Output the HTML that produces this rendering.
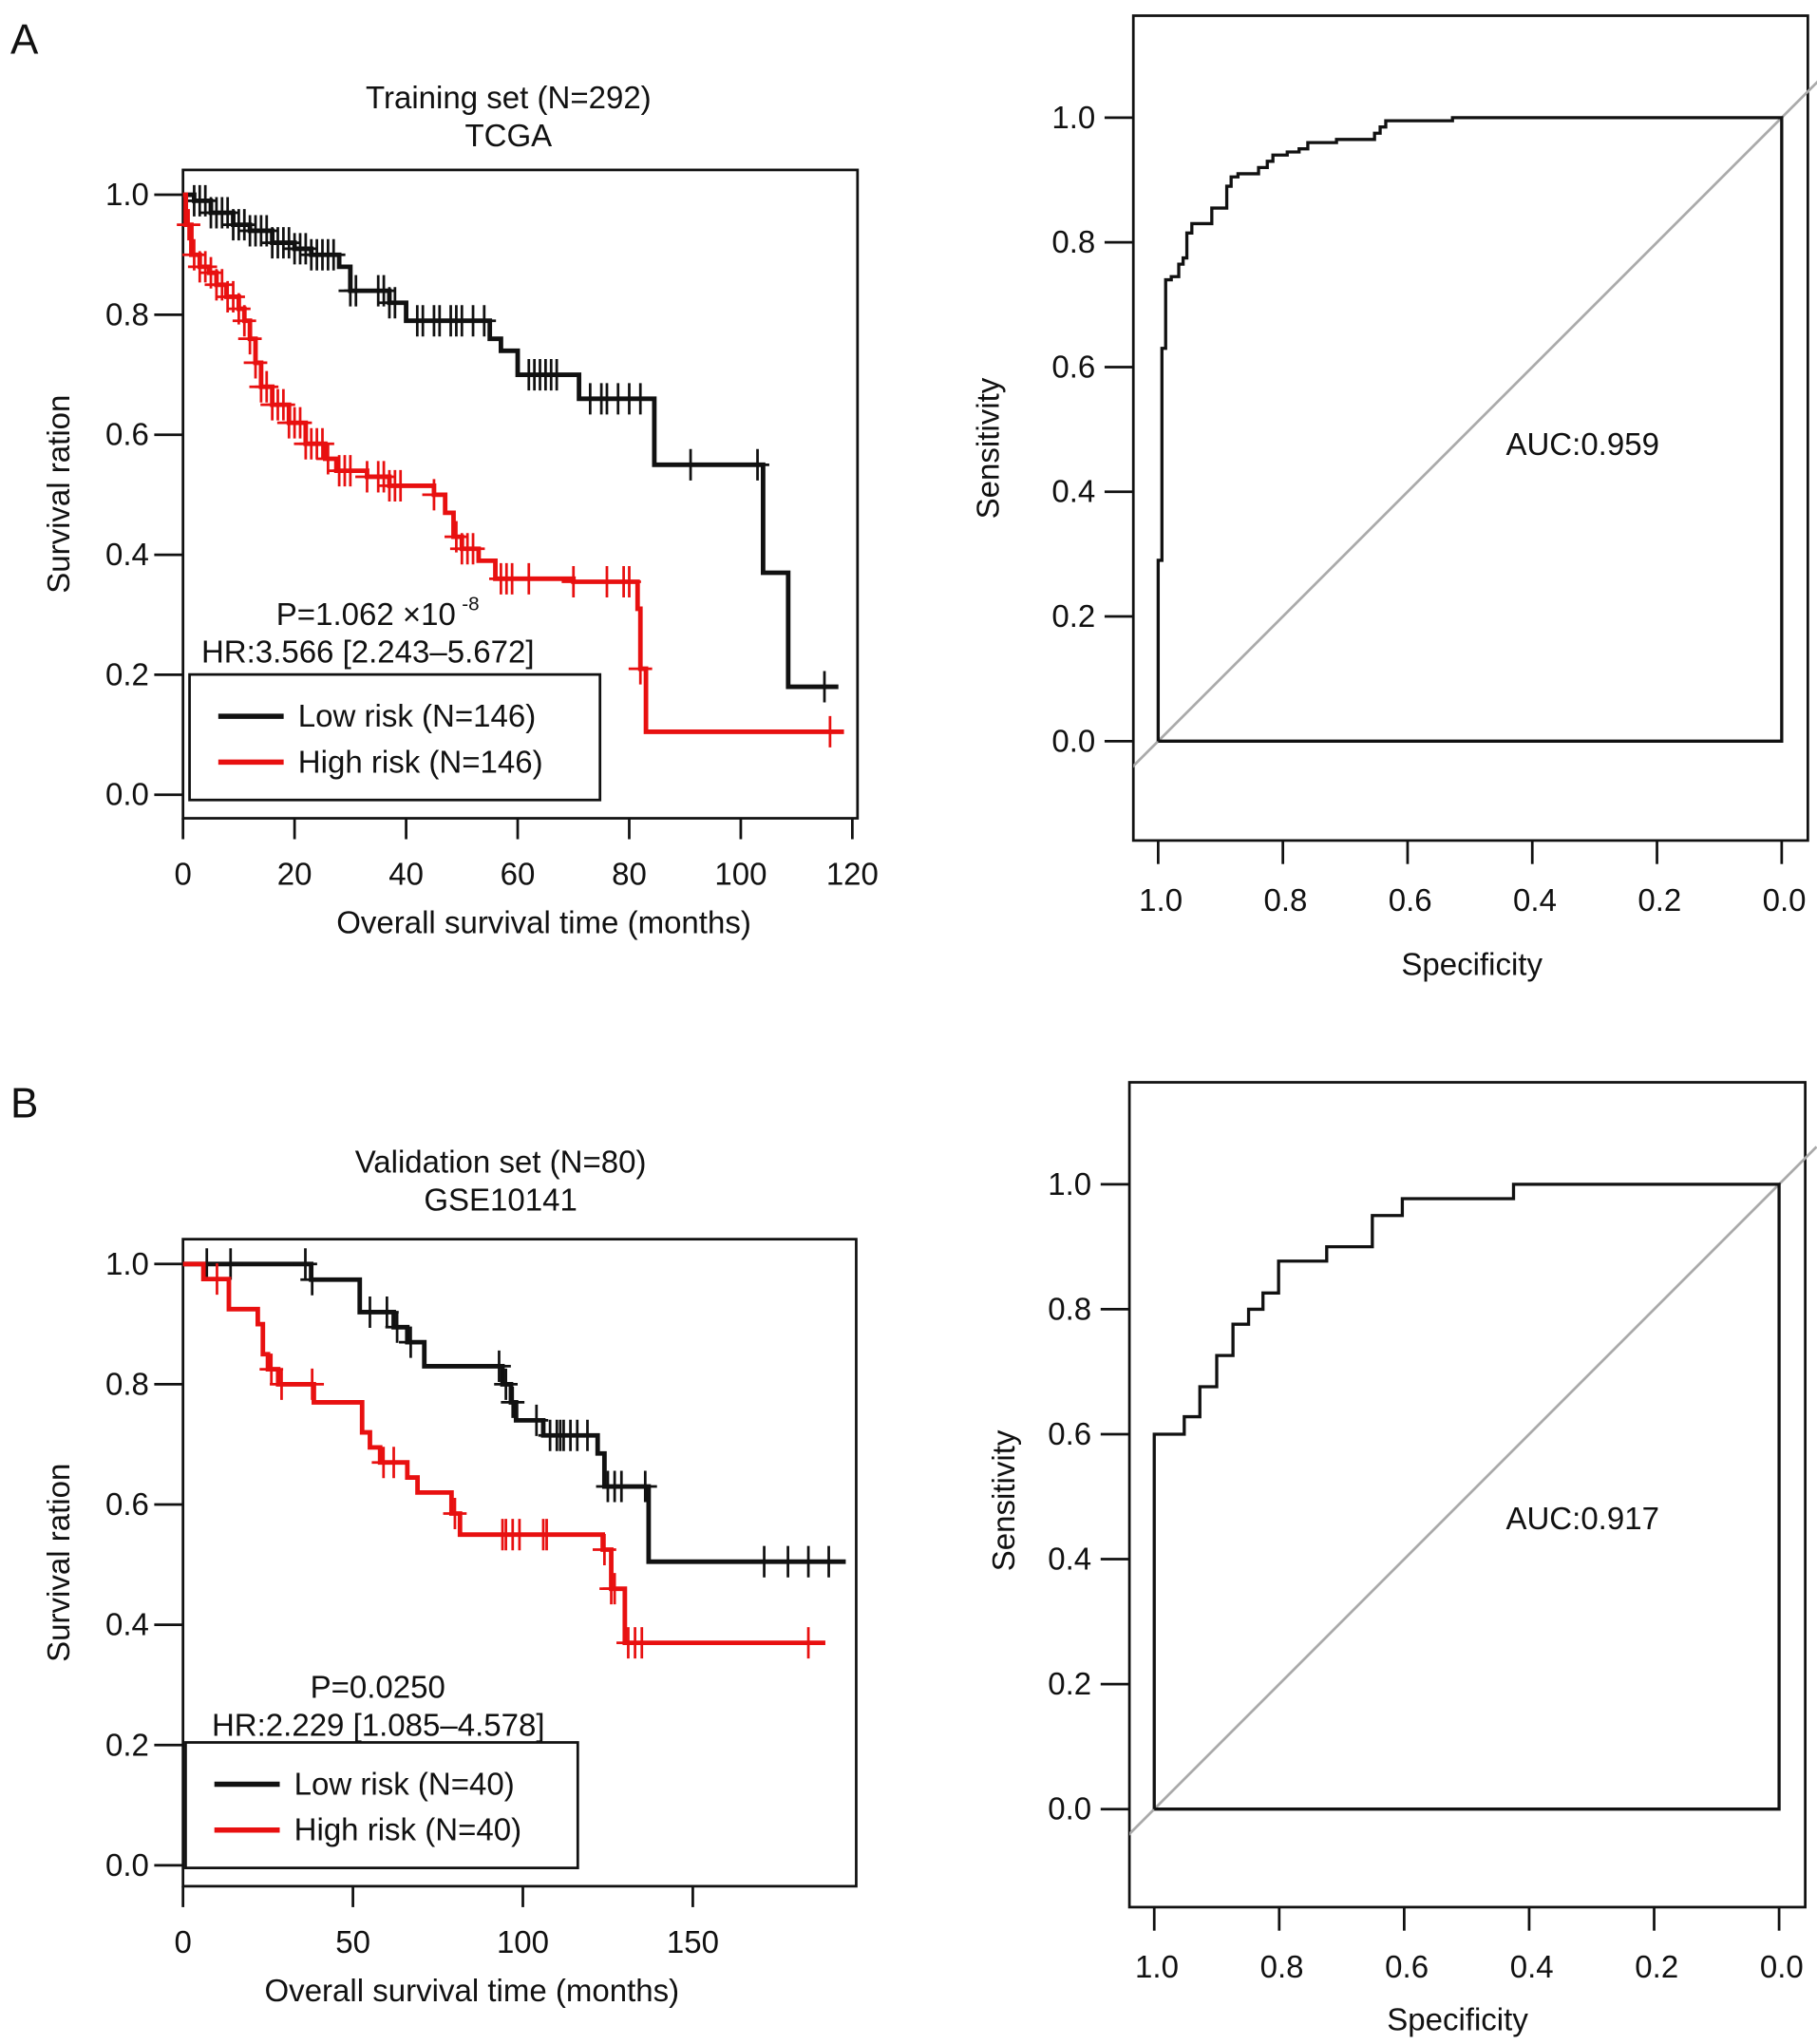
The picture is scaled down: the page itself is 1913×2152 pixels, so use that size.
<!DOCTYPE html>
<html><head><meta charset="utf-8">
<style>
html,body{margin:0;padding:0;background:#fff;}
svg{display:block;font-family:"Liberation Sans",Arial,sans-serif;}
</style></head>
<body>
<svg id="fig" width="1913" height="2152" viewBox="0 0 1390 1563.7" preserveAspectRatio="none">
<g id="root"></g>
</svg>
<script>
// ---------- data ----------
const kmA_lowTimes=[0,2,5,9,12,16,20,23,28,30,37,40,55,57,60,71,84.5,104,108.5];
const kmA_lowSurv=[1,0.99,0.97,0.95,0.94,0.92,0.91,0.90,0.88,0.84,0.82,0.79,0.76,0.74,0.70,0.66,0.55,0.37,0.18];
const kmA_lowEnd=117.5;
const kmA_lowCens=[2,3,4,5,6,7,8,9,10,11,12,13,14,15,16,17,18,19,20,21,22,23,24,25,26,27,30,31,35,36,37,38,42,43,45,46,48,49,50,52,54,62,63,64,65,66,67,73,75,76,78,80,82,91,103,115];
const kmA_highTimes=[0,0.5,1.5,3,4.7,6,7.8,10,11,12,13,14,16,19,22,25.5,27.5,33,37,45,47,48.5,50,53,56,70,81.5,82,83];
const kmA_highSurv=[1,0.95,0.90,0.88,0.87,0.85,0.83,0.81,0.79,0.76,0.72,0.68,0.65,0.62,0.585,0.56,0.54,0.53,0.515,0.50,0.47,0.43,0.41,0.39,0.36,0.355,0.31,0.21,0.105];
const kmA_highEnd=118.5;
const kmA_highCens=[1,2,3,4,5,6,7,8,9,10,11,12,13,14,15,16,17,18,19,20,21,22,23,24,25,26,28,29,30,33,35,36,37,38,39,45,49,50,51,52,57,58,59,62,70,76,79,80,82,116];

const rocA_spec=[1.0,1.0,0.994,0.988,0.979,0.967,0.960,0.954,0.946,0.914,0.890,0.883,0.872,0.839,0.825,0.816,0.793,0.774,0.760,0.714,0.653,0.644,0.635,0.528,0.0];
const rocA_sens=[0,0.29,0.63,0.74,0.745,0.765,0.775,0.815,0.83,0.855,0.89,0.905,0.91,0.92,0.93,0.94,0.945,0.95,0.96,0.965,0.975,0.985,0.995,1.0,1.0];

const kmB_lowTimes=[0,37.7,52,62,66,71,94,96.5,98,106,122,124,137];
const kmB_lowSurv=[1,0.974,0.92,0.895,0.87,0.83,0.80,0.77,0.74,0.715,0.685,0.63,0.505];
const kmB_lowEnd=195;
const kmB_lowCens=[7,14,36,38,55,60,63,67,93,95,97,104,108,110,111,112,114,116,119,125,127,129,136,171,178,184,190];
const kmB_highTimes=[0,6,13.5,22,23.5,25,28,38.5,52.7,55,58,66,69,79,81.5,123.5,126,130];
const kmB_highSurv=[1,0.975,0.925,0.90,0.85,0.825,0.80,0.77,0.72,0.695,0.67,0.645,0.62,0.585,0.55,0.525,0.46,0.37];
const kmB_highEnd=189;
const kmB_highCens=[10,26,29,38,59,62,80,94,95,97,99,106,107,124,126,127,131,133,135,184];

const rocB_spec=[1.0,1.0,0.952,0.927,0.9,0.874,0.849,0.826,0.801,0.724,0.651,0.603,0.425,0.0];
const rocB_sens=[0,0.60,0.628,0.676,0.726,0.776,0.80,0.826,0.877,0.90,0.95,0.977,1.0,1.0];

const kmA_xTicks=[0,20,40,60,80,100,120];
const kmB_xTicks=[0,50,100,150];
const yTicks=[0,0.2,0.4,0.6,0.8,1.0];
const rocXTicks=[1.0,0.8,0.6,0.4,0.2,0.0];

// ---------- helpers ----------
const NS="http://www.w3.org/2000/svg";
const FS=24;
const root=document.getElementById('root');
function el(tag,attrs,parent){const e=document.createElementNS(NS,tag);for(const k in attrs)e.setAttribute(k,attrs[k]);(parent||root).appendChild(e);return e;}
function txt(s,x,y,size,anchor,parent,extra){const t=el('text',Object.assign({x:x,y:y,'font-size':size,'text-anchor':anchor||'middle',fill:'#111'},extra||{}),parent);t.textContent=s;return t;}
function survAt(times,surv,t){let v=surv[0];for(let i=0;i<times.length;i++){if(times[i]<=t)v=surv[i];}return v;}

function kmPlot(cfg){
  const g=el('g',{});
  
  
  const X=t=>cfg.x0+t*cfg.xs, Y=s=>cfg.y0-s*cfg.ys;
  const box=el('rect',{x:cfg.box[0],y:cfg.box[1],width:cfg.box[2]-cfg.box[0],height:cfg.box[3]-cfg.box[1],fill:'none',stroke:'#111','stroke-width':2},g);
  
  yTicks.forEach(v=>{
    const l=el('line',{x1:cfg.box[0]-22,x2:cfg.box[0],y1:Y(v),y2:Y(v),stroke:'#111','stroke-width':2},g);
    
    const t=txt(v.toFixed(1),cfg.box[0]-26,Y(v)+8,FS,'end',g);
    
  });
  cfg.xTicks.forEach(v=>{
    const l=el('line',{x1:X(v),x2:X(v),y1:cfg.box[3],y2:cfg.box[3]+16,stroke:'#111','stroke-width':2},g);
    
    const t=txt(String(v),X(v),cfg.box[3]+51,FS,'middle',g);
    
  });
  const yl=txt('Survival ration',0,0,FS,'middle',g,{transform:`translate(${cfg.box[0]-87},${(cfg.box[1]+cfg.box[3])/2}) rotate(-90)`});
  
  const xl=txt('Overall survival time (months)',cfg.xlX,cfg.box[3]+88,FS,'middle',g);
  
  cfg.title.forEach((s,i)=>{const t=txt(s,cfg.titleX,cfg.titleY+i*29,FS,'middle',g);});
  [[cfg.low,'#111','low-risk-curve'],[cfg.high,'#e81010','high-risk-curve']].forEach(([c,col,nm])=>{
    let d=`M${X(c.times[0])},${Y(c.surv[0])}`;
    for(let i=1;i<c.times.length;i++){d+=` H${X(c.times[i])} V${Y(c.surv[i])}`;}
    d+=` H${X(c.end)}`;
    const p=el('path',{d:d,fill:'none',stroke:col,'stroke-width':3.5},g);
    
    c.cens.forEach(t=>{
      const s=survAt(c.times,c.surv,t);
      const m=el('path',{d:`M${X(t)},${Y(s)-12} V${Y(s)+12} M${X(t)-9},${Y(s)} H${X(t)+9}`,stroke:col,'stroke-width':2,fill:'none'},g);
      
    });
  });
  const p1=txt(cfg.ptext,cfg.pX,cfg.pY,FS,'middle',g);
  if(cfg.psup){const s=txt('-8',cfg.pX+80,cfg.pY-11,15,'middle',g);}
  const hr=txt(cfg.hr,cfg.hrX,cfg.pY+29,FS,'start',g);
  const lg=el('g',{},g);
  const lb=cfg.leg;
  const r=el('rect',{x:lb[0],y:lb[1],width:lb[2]-lb[0],height:lb[3]-lb[1],fill:'#fff',stroke:'#111','stroke-width':2},lg);
  
  [[cfg.lowLabel,'#111',lb[1]+32,'legend-entry-low'],[cfg.highLabel,'#e81010',lb[1]+67,'legend-entry-high']].forEach(([s,col,y,nm])=>{
    const l=el('line',{x1:lb[0]+22,x2:lb[0]+72,y1:y,y2:y,stroke:col,'stroke-width':4},lg);
    
    const t=txt(s,lb[0]+83,y+8,FS,'start',lg);
  });
}

function rocPlot(cfg){
  const g=el('g',{});
  
  
  const XX=s=>cfg.xR+(cfg.xL-cfg.xR)*s;
  const Y=v=>cfg.y0-v*cfg.ys;
  const b=cfg.box;
  const box=el('rect',{x:b[0],y:b[1],width:b[2]-b[0],height:b[3]-b[1],fill:'none',stroke:'#111','stroke-width':2},g);
  
  const cp=el('clipPath',{id:cfg.name+'-clip'},g);
  el('rect',{x:b[0],y:b[1],width:b[2]-b[0]+20,height:b[3]-b[1]},cp);
  const dg=el('line',{x1:XX(1.05),y1:Y(-0.05),x2:XX(-0.06),y2:Y(1.06),stroke:'#aaa','stroke-width':2,'clip-path':`url(#${cfg.name}-clip)`},g);
  
  yTicks.forEach(v=>{
    const l=el('line',{x1:b[0]-22,x2:b[0],y1:Y(v),y2:Y(v),stroke:'#111','stroke-width':2},g);
    
    const t=txt(v.toFixed(1),b[0]-29,Y(v)+8,FS,'end',g);
  });
  rocXTicks.forEach(v=>{
    const l=el('line',{x1:XX(v),x2:XX(v),y1:b[3],y2:b[3]+18,stroke:'#111','stroke-width':2},g);
    
    const t=txt(v.toFixed(1),XX(v)+2,b[3]+54,FS,'middle',g);
  });
  const yl=txt('Sensitivity',0,0,FS,'middle',g,{transform:`translate(${cfg.ylX},${cfg.ylY}) rotate(-90)`});
  
  const xl=txt('Specificity',cfg.xlX,cfg.xlY,FS,'middle',g);
  let d=`M${XX(cfg.spec[0])},${Y(cfg.sens[0])}`;
  for(let i=1;i<cfg.spec.length;i++){d+=` H${XX(cfg.spec[i])} V${Y(cfg.sens[i])}`;}
  d+=` V${Y(0)} H${XX(1)}`;
  const p=el('path',{d:d,fill:'none',stroke:'#111','stroke-width':2.4},g);
  
  const a=txt(cfg.auc,1152,cfg.aucY,FS,'start',g);
}

const la=txt('A',8,41,32,'start');
const lbB=txt('B',8,855,32,'start');

kmPlot({name:'km-plot-training',box:[140,130,656,626],x0:140,xs:4.267,y0:608,ys:459,xTicks:kmA_xTicks,
  title:['Training set (N=292)','TCGA'],titleX:389,titleY:83,xlX:416,
  low:{times:kmA_lowTimes,surv:kmA_lowSurv,end:kmA_lowEnd,cens:kmA_lowCens},
  high:{times:kmA_highTimes,surv:kmA_highSurv,end:kmA_highEnd,cens:kmA_highCens},
  ptext:'P=1.062 \u00d710',psup:true,pX:280,pY:478,hr:'HR:3.566 [2.243\u20135.672]',hrX:154,
  leg:[145,516,459,612],lowLabel:'Low risk (N=146)',highLabel:'High risk (N=146)'});

kmPlot({name:'km-plot-validation',box:[140,948,655,1443],x0:140,xs:2.6,y0:1427,ys:460,xTicks:kmB_xTicks,
  title:['Validation set (N=80)','GSE10141'],titleX:383,titleY:897,xlX:361,
  low:{times:kmB_lowTimes,surv:kmB_lowSurv,end:kmB_lowEnd,cens:kmB_lowCens},
  high:{times:kmB_highTimes,surv:kmB_highSurv,end:kmB_highEnd,cens:kmB_highCens},
  ptext:'P=0.0250',psup:false,pX:289,pY:1299,hr:'HR:2.229 [1.085\u20134.578]',hrX:162,
  leg:[142,1333,442,1429],lowLabel:'Low risk (N=40)',highLabel:'High risk (N=40)'});

rocPlot({name:'roc-plot-training',box:[867,12,1383,643],xL:886,xR:1363,y0:567,ys:477,spec:rocA_spec,sens:rocA_sens,
  ylX:764,ylY:343,xlX:1126,xlY:746,auc:'AUC:0.959',aucY:348});
rocPlot({name:'roc-plot-validation',box:[864,828,1381,1459],xL:883,xR:1361,y0:1384,ys:478,spec:rocB_spec,sens:rocB_sens,
  ylX:776,ylY:1148,xlX:1115,xlY:1553,auc:'AUC:0.917',aucY:1170});
</script>
</body></html>
